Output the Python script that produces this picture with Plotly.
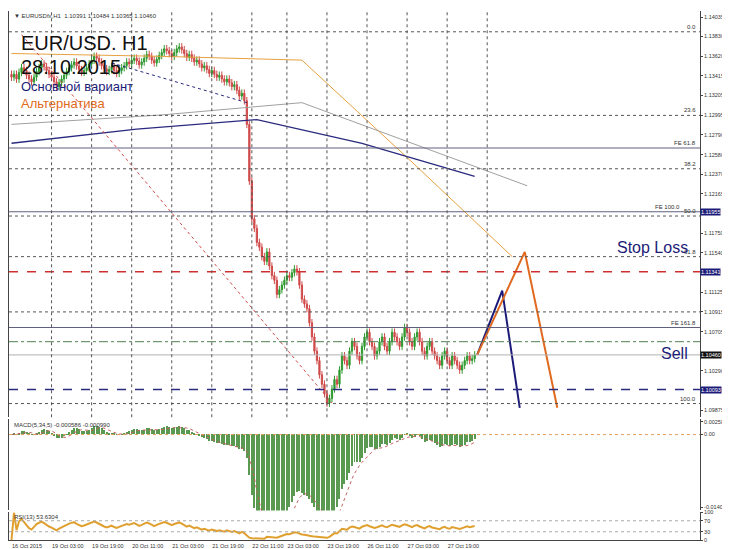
import numpy as np
import pandas as pd
import plotly.graph_objects as go

# hourly closes, offset from 1.1 in 1e-5 units
closes_pts = [3400,3430,3380,3450,3500,3470,3420,3380,3350,3400,3460,3500,3540,3510,3470,3430,3400,3350,3300,3340,
              3380,3420,3460,3500,3530,3560,3520,3480,3450,3470,3500,3540,3580,3620,3600,3560,3520,3490,3460,3480,3510,3470,3440,3470,3500,
              3520,3560,3540,3580,3600,3570,3530,3560,3600,3640,3620,3580,3550,3590,3630,3660,3700,3680,3650,3620,3660,3700,3720,3690,3650,
              3610,3640,3600,3560,3580,3540,3500,3520,3480,3440,3470,3430,3400,3420,3380,3350,3380,3340,3300,3320,3260,3200,3230,3150,
              2900,2300,1900,1800,1650,1600,
              1500,1450,1550,1400,1300,1250,1100,1150,
              1200,1250,1300,1280,1330,1370,1340,1200,1050,1000,
              950,800,650,500,400,250,150,50,-50,0,
              100,200,150,300,450,400,350,500,600,550,450,400,550,650,700,600,550,450,
              500,600,650,550,500,600,700,650,600,550,650,750,700,600,550,650,700,600,500,450,550,600,500,450,400,
              350,450,500,400,350,450,400,350,300,350,400,450,400,420,460]
close = 1.1 + np.array(closes_pts) / 1e5
opn = np.r_[close[0] + 0.0003, close[:-1]]
high = np.maximum(opn, close) + 0.0004
low = np.minimum(opn, close) - 0.0004
bars = np.arange(len(close))

date_ticks = [0, 16, 32, 48, 64, 80, 96, 110, 126, 142, 158, 174, 190]
date_labels = ["16 Oct 2015", "19 Oct 03:00", "19 Oct 19:00", "20 Oct 11:00", "21 Oct 03:00",
               "21 Oct 19:00", "22 Oct 11:00", "23 Oct 03:00", "23 Oct 19:00", "26 Oct 11:00",
               "27 Oct 03:00", "27 Oct 19:00", ""]
price_ticks = [1.14035, 1.13830, 1.13620, 1.13415, 1.13205, 1.12995, 1.12790, 1.12580, 1.12370,
               1.12165, 1.11750, 1.11540, 1.11125, 1.10915, 1.10705, 1.10290, 1.09875]

# drawn lines (bar, price)
orange_ma = ([0, 60, 116, 160, 200], [1.1365, 1.1362, 1.1358, 1.1250, 1.1150])
gray_ma = ([0, 60, 116, 160, 206], [1.1290, 1.1300, 1.1313, 1.1270, 1.1225])
navy_ma = ([0, 50, 98, 140, 185], [1.1270, 1.1285, 1.1295, 1.1270, 1.1235])
red_trend = ([4, 128], [1.1385, 1.0995])
navy_trend = ([40, 94], [1.1355, 1.1313])
main_fc = ([186, 196, 203], [1.1046, 1.1114, 1.0990])
alt_fc = ([186, 205, 218], [1.1046, 1.1155, 1.0990])
fib_lvls = [1.13880, 1.12995, 1.12430, 1.11930, 1.11500, 1.10915, 1.09945]
fib_names = ["0.0", "23.6", "38.2", "50.0", "61.8", "", "100.0"]
fe_lvls = [1.12650, 1.11975, 1.10750]
fe_names = ["FE 61.8", "FE 100.0", "FE 161.8"]

s = pd.Series(close)
macd = s.ewm(span=5, adjust=False).mean() - s.ewm(span=34, adjust=False).mean()
sig = macd.rolling(5, min_periods=1).mean()
d = s.diff().fillna(0)
up = d.clip(lower=0).ewm(alpha=1/13, adjust=False).mean()
dn = (-d.clip(upper=0)).ewm(alpha=1/13, adjust=False).mean()
rsi = 100 - 100 / (1 + up / dn.replace(0, 1e-9))

fig = go.Figure()
fig.add_trace(go.Candlestick(x=bars, open=opn, high=high, low=low, close=close,
                             increasing=dict(line=dict(color="#2f9a2f", width=1), fillcolor="#2f9a2f"),
                             decreasing=dict(line=dict(color="#d04a4a", width=1), fillcolor="#d04a4a"),
                             whiskerwidth=0, xaxis="x", yaxis="y"))
for (xs, ys), col, w, dash in [(orange_ma, "#e8a040", 1, "solid"), (gray_ma, "#a0a0a0", 1, "solid"),
                               (navy_ma, "#2a2a80", 1.3, "solid"), (red_trend, "#d04a4a", 1, "dot"),
                               (navy_trend, "#2a2a80", 1, "dot"), (main_fc, "#1c1c78", 2, "solid"),
                               (alt_fc, "#e06a20", 2, "solid")]:
    fig.add_trace(go.Scatter(x=xs, y=ys, mode="lines", line=dict(color=col, width=w, dash=dash),
                             xaxis="x", yaxis="y"))
fig.add_trace(go.Bar(x=bars, y=macd, marker=dict(color="#5a9a50", line=dict(width=0)), width=0.4,
                     xaxis="x", yaxis="y2"))
fig.add_trace(go.Scatter(x=bars, y=sig, mode="lines", line=dict(color="#c06060", width=1, dash="dot"),
                         xaxis="x", yaxis="y2"))
fig.add_trace(go.Scatter(x=bars, y=rsi, mode="lines", line=dict(color="#e0a030", width=2),
                         xaxis="x", yaxis="y3"))

for lv, nm in zip(fib_lvls, fib_names):
    fig.add_hline(y=lv, line=dict(color="#555", width=1, dash="dot"), yref="y")
    fig.add_annotation(x=274, y=lv, text=nm, showarrow=False, xanchor="right", yanchor="bottom",
                       font=dict(size=6, color="#333"))
for lv, nm in zip(fe_lvls, fe_names):
    fig.add_hline(y=lv, line=dict(color="#606080", width=1.2), yref="y")
    fig.add_annotation(x=268 if nm == "FE 100.0" else 274, y=lv, text=nm, showarrow=False,
                       xanchor="right", yanchor="bottom", font=dict(size=6, color="#333"))
fig.add_hline(y=1.11341, line=dict(color="#d03030", width=1.5, dash="dash"), yref="y")
fig.add_hline(y=1.10600, line=dict(color="#508050", width=1, dash="dashdot"), yref="y")
fig.add_hline(y=1.10460, line=dict(color="#b0b0b0", width=1), yref="y")
fig.add_hline(y=1.10093, line=dict(color="#2a2a80", width=1.5, dash="dash"), yref="y")
fig.add_hline(y=0, line=dict(color="#e0a060", width=1, dash="dot"), yref="y2")
for lv in [30, 70]:
    fig.add_hline(y=lv, line=dict(color="#aaa", width=1, dash="dot"), yref="y3")
for t in date_ticks[1:]:
    fig.add_vline(x=t, line=dict(color="#555", width=1, dash="dot"))

for y, txt, col in [(1.10093, "1.10093", "#1c1c78"), (1.10460, "1.10460", "#111"),
                    (1.11341, "1.11341", "#1c1c78"), (1.11975, "1.11955", "#1c1c78")]:
    fig.add_annotation(x=1.0, xref="paper", y=y, yref="y", text=txt, showarrow=False, xanchor="left",
                       bgcolor=col, font=dict(size=5.5, color="white"), borderpad=0)

ann = [(0.965, "EUR/USD. H1", 20, "#111"), (0.918, "28.10.2015", 20, "#111"),
       (0.876, "Основной вариант", 13, "#1c1c78"), (0.843, "Альтернатива", 13, "#e06a20")]
for y, t, sz, c in ann:
    fig.add_annotation(x=0.015, xref="paper", y=y, yref="paper", text=t, showarrow=False,
                       xanchor="left", font=dict(size=sz, color=c))
fig.add_annotation(x=256, y=1.1160, text="Stop Loss", showarrow=False, font=dict(size=16, color="#1c1c78"))
fig.add_annotation(x=265, y=1.1047, text="Sell", showarrow=False, font=dict(size=16, color="#1c1c78"))
fig.add_annotation(x=0.005, xref="paper", y=1, yref="paper", text="▼ EURUSDfx,H1  1.10391 1.10484 1.10365 1.10460",
                   showarrow=False, xanchor="left", yanchor="top", font=dict(size=6, color="#333"))
fig.add_annotation(x=0.005, xref="paper", y=0.226, yref="paper", text="MACD(5,34,5) -0.000586 -0.000990",
                   showarrow=False, xanchor="left", yanchor="top", font=dict(size=6, color="#333"))
fig.add_annotation(x=0.005, xref="paper", y=0.052, yref="paper", text="RSI(13) 53.6304",
                   showarrow=False, xanchor="left", yanchor="top", font=dict(size=6, color="#333"))

ax = dict(showgrid=False, zeroline=False, showline=True, linecolor="#444", mirror=True,
          ticks="outside", ticklen=2, tickfont=dict(size=5.5, color="#333"), side="right")
fig.update_layout(
    width=730, height=549, margin=dict(l=0, r=38, t=0, b=17),
    paper_bgcolor="white", plot_bgcolor="white", showlegend=False, bargap=0,
    font=dict(family="Arial, Liberation Sans"),
    xaxis=dict(range=[-1, 275], tickvals=date_ticks, ticktext=date_labels, showgrid=False, zeroline=False,
               showline=True, linecolor="#444", tickfont=dict(size=5.5, color="#333"), tickangle=0,
               ticklabelposition="outside right", rangeslider=dict(visible=False), anchor="y3"),
    yaxis=dict(ax, domain=[0.232, 1], range=[1.09800, 1.14100], tickvals=price_ticks,
               ticktext=[f"{v:.5f}" for v in price_ticks]),
    yaxis2=dict(ax, domain=[0.056, 0.228], range=[-0.0090, 0.0018], tickvals=[0.0015, 0, -0.0086],
                ticktext=["0.00258", "0.00", "-0.01400"]),
    yaxis3=dict(ax, domain=[0, 0.052], range=[0, 100], tickvals=[100, 70, 30, 0]),
)
fig.write_html("out.html")
